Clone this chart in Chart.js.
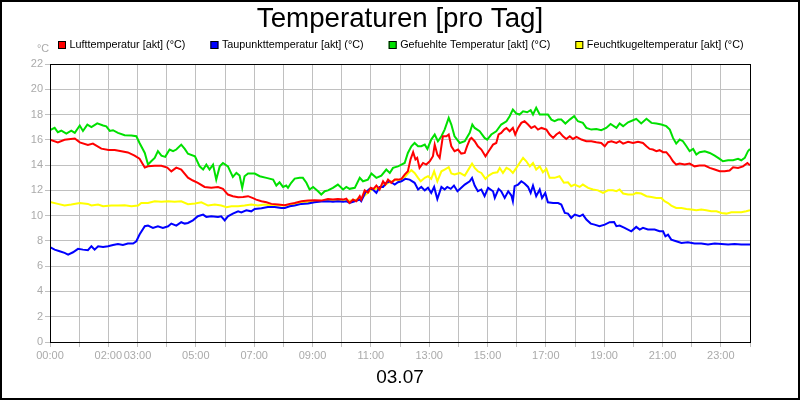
<!DOCTYPE html>
<html>
<head>
<meta charset="utf-8">
<script src="https://cdn.jsdelivr.net/npm/chart.js@4/dist/chart.umd.min.js"></script>
<style>
html,body{margin:0;padding:0;background:#fff;}
#wrap{width:800px;height:400px;position:relative;}
</style>
</head>
<body>
<div id="wrap"><canvas id="c" width="800" height="400"></canvas></div>
<script>
const chartTitle = "Temperaturen [pro Tag]";
const dateLabel = "03.07";
const unitLabel = "°C";
const seriesLabels = ["Lufttemperatur [akt] (°C)", "Taupunkttemperatur [akt] (°C)", "Gefuehlte Temperatur [akt] (°C)", "Feuchtkugeltemperatur [akt] (°C)"];
const seriesColors = ["#ff0000", "#0000ff", "#00e000", "#ffff00"];
const xTickHours = [0, 2, 3, 5, 7, 9, 11, 13, 15, 17, 19, 21, 23];
const xTickLabels = ["00:00", "02:00", "03:00", "05:00", "07:00", "09:00", "11:00", "13:00", "15:00", "17:00", "19:00", "21:00", "23:00"];

const redHours = [0,0.27,0.5,0.85,1.02,1.3,1.47,1.76,2.01,2.22,2.45,2.67,2.9,3.07,3.25,3.36,3.59,3.82,4.02,4.16,4.33,4.5,4.73,4.9,5.07,5.3,5.53,5.76,5.93,6.1,6.27,6.45,6.62,6.79,6.96,7.07,7.25,7.42,7.59,7.82,8.05,8.22,8.39,8.62,8.85,9.07,9.3,9.53,9.7,9.87,10.05,10.16,10.27,10.39,10.5,10.62,10.67,10.79,10.9,11,11.09,11.19,11.3,11.42,11.5,11.59,11.7,11.82,11.93,12.05,12.16,12.27,12.36,12.45,12.53,12.59,12.67,12.79,12.9,13.02,13.13,13.19,13.28,13.36,13.47,13.59,13.67,13.76,13.87,13.99,14.1,14.22,14.3,14.4,14.45,14.56,14.67,14.79,14.93,15.04,15.19,15.3,15.38,15.47,15.57,15.65,15.76,15.87,15.95,16.05,16.16,16.27,16.39,16.5,16.62,16.73,16.85,17.02,17.13,17.25,17.36,17.47,17.59,17.7,17.82,17.93,18.05,18.22,18.39,18.56,18.73,18.9,19.02,19.13,19.25,19.42,19.53,19.65,19.82,19.99,20.16,20.33,20.45,20.56,20.67,20.79,20.9,21.02,21.13,21.25,21.36,21.47,21.59,21.76,21.93,22.1,22.27,22.45,22.62,22.79,22.96,23.13,23.3,23.42,23.59,23.76,23.91,24];
const redValues = [16.0,15.8,16.0,16.1,15.8,15.6,15.7,15.3,15.2,15.2,15.1,15.0,14.75,14.5,13.8,13.9,13.95,13.95,13.8,13.5,13.8,13.65,13.0,12.78,12.6,12.27,12.2,12.27,12.12,11.67,11.54,11.46,11.48,11.54,11.38,11.27,11.14,11.06,10.93,10.88,10.82,10.93,11.0,11.14,11.19,11.22,11.19,11.32,11.27,11.32,11.27,11.35,11.0,11.27,11.14,11.54,11.27,12.0,11.83,12.2,12.12,12.38,12.07,12.72,12.46,12.85,12.6,12.85,12.85,12.91,13.25,13.51,14.44,15.02,14.44,14.57,13.78,14.17,14.04,14.3,14.7,15.62,14.83,14.57,16.28,16.28,16.42,15.49,15.1,15.23,14.91,14.96,15.5,16.05,16.15,15.89,15.49,15.23,14.7,15.1,15.62,15.75,16.42,16.55,16.81,16.94,16.68,16.94,16.42,16.94,17.34,17.47,17.21,16.94,17.08,16.81,16.94,16.81,16.42,16.15,16.42,16.6,16.28,16.07,16.28,16.07,16.23,16.02,15.89,15.89,15.81,15.75,15.49,15.81,15.89,15.75,15.89,15.7,15.84,15.75,15.84,15.75,15.49,15.28,15.23,15.1,15.18,15.02,15.02,14.7,14.3,14.04,14.12,14.04,14.12,13.9,13.96,13.96,13.78,13.65,13.51,13.51,13.57,13.83,13.78,13.9,14.17,13.99];

const blueHours = [0,0.16,0.33,0.5,0.62,0.79,0.96,1.13,1.3,1.42,1.53,1.65,1.82,1.99,2.16,2.33,2.5,2.67,2.85,2.96,3.07,3.25,3.36,3.53,3.7,3.87,4.05,4.16,4.33,4.5,4.62,4.73,4.9,5.07,5.25,5.36,5.53,5.76,5.87,5.99,6.1,6.27,6.45,6.56,6.73,6.9,7.02,7.25,7.47,7.7,7.93,8.05,8.22,8.39,8.62,8.85,9.07,9.3,9.53,9.7,9.87,10.05,10.16,10.27,10.45,10.62,10.67,10.81,10.96,11.07,11.19,11.3,11.42,11.53,11.65,11.82,11.93,12.05,12.18,12.33,12.5,12.62,12.73,12.85,12.96,13.07,13.17,13.28,13.42,13.53,13.62,13.74,13.85,13.97,14.1,14.22,14.39,14.47,14.56,14.67,14.79,14.9,15.02,15.19,15.25,15.38,15.47,15.59,15.71,15.82,15.87,15.93,16.05,16.16,16.27,16.39,16.48,16.56,16.67,16.79,16.87,16.98,17.07,17.25,17.42,17.53,17.65,17.76,17.87,17.99,18.16,18.27,18.39,18.54,18.67,18.84,19.02,19.19,19.34,19.42,19.53,19.7,19.93,20.1,20.22,20.33,20.5,20.73,20.9,21.02,21.1,21.19,21.3,21.47,21.65,21.87,22.1,22.33,22.56,22.79,23.02,23.25,23.47,23.7,23.87,24];
const blueValues = [7.5,7.31,7.18,7.05,6.92,7.1,7.37,7.31,7.26,7.58,7.31,7.58,7.52,7.58,7.68,7.76,7.68,7.79,7.79,7.97,8.5,9.16,9.21,9.03,9.16,9.03,9.16,9.37,9.21,9.48,9.37,9.42,9.63,9.95,10.08,9.9,9.95,9.9,9.95,9.63,9.95,10.16,10.34,10.26,10.42,10.34,10.53,10.58,10.69,10.69,10.61,10.61,10.74,10.8,10.93,10.96,11.06,11.11,11.14,11.09,11.14,11.09,11.14,11.0,11.14,11.27,11.14,11.83,12.12,12.07,11.8,12.27,12.27,12.6,12.72,12.46,12.64,12.72,12.91,12.85,12.6,12.07,12.27,12.0,12.2,11.8,12.27,11.32,12.27,12.07,12.27,12.12,12.38,11.93,12.2,12.46,12.72,12.99,12.38,11.93,12.07,11.54,12.2,11.93,11.4,12.12,11.93,11.4,11.93,11.59,11.14,12.33,12.46,12.72,12.54,12.27,11.8,12.38,11.54,12.07,11.4,11.8,11.06,11.0,11.0,10.88,10.21,10.16,9.82,10.08,9.95,10.08,9.69,9.37,9.29,9.16,9.29,9.48,9.5,9.16,9.21,9.03,8.76,9.11,8.9,9.03,8.9,8.9,8.76,8.76,8.36,8.5,8.1,7.97,7.84,7.89,7.79,7.79,7.71,7.79,7.76,7.71,7.76,7.71,7.71,7.71];

const greenHours = [0,0.16,0.27,0.39,0.56,0.73,0.85,1.02,1.13,1.28,1.42,1.62,1.82,1.93,2.05,2.16,2.33,2.56,2.79,2.96,3.07,3.25,3.36,3.47,3.59,3.7,3.82,3.95,4.1,4.22,4.33,4.5,4.62,4.73,4.97,5.13,5.25,5.36,5.47,5.59,5.7,5.82,5.93,6.1,6.27,6.39,6.5,6.59,6.67,6.79,7.02,7.19,7.42,7.65,7.76,7.87,7.99,8.1,8.16,8.27,8.39,8.56,8.67,8.79,8.9,9.02,9.19,9.3,9.42,9.53,9.7,9.87,10.05,10.16,10.27,10.45,10.62,10.73,10.9,11.02,11.19,11.36,11.53,11.65,11.76,11.93,12.05,12.16,12.27,12.39,12.5,12.62,12.73,12.85,12.94,13.07,13.19,13.3,13.42,13.53,13.67,13.76,13.87,14.05,14.22,14.39,14.48,14.56,14.73,14.9,14.99,15.13,15.3,15.47,15.65,15.76,15.87,15.99,16.1,16.22,16.36,16.48,16.56,16.67,16.79,16.94,17.07,17.19,17.3,17.42,17.53,17.67,17.82,17.97,18.1,18.27,18.39,18.56,18.73,18.9,19.07,19.22,19.42,19.53,19.65,19.82,19.99,20.1,20.27,20.45,20.62,20.79,20.96,21.13,21.25,21.36,21.47,21.59,21.7,21.82,21.93,22.05,22.16,22.27,22.45,22.62,22.79,22.96,23.07,23.25,23.42,23.59,23.7,23.82,23.93,24];
const greenValues = [16.76,16.95,16.6,16.73,16.5,16.73,16.55,17.13,16.7,17.2,17.0,17.3,17.13,17.07,16.7,16.76,16.55,16.36,16.34,16.28,15.75,14.96,14.04,14.3,14.57,15.1,14.75,14.65,15.23,15.1,15.23,15.62,15.28,14.9,14.7,13.9,13.65,14.04,13.65,14.04,12.85,13.9,14.17,13.9,13.07,13.38,13.17,12.2,13.12,13.33,13.33,13.12,12.99,12.85,12.38,12.64,12.27,12.38,12.2,12.6,12.93,12.99,12.99,12.6,12.07,12.27,11.93,11.67,11.93,12.0,12.2,12.46,12.07,12.27,12.12,12.2,12.99,12.72,12.85,13.33,12.99,13.17,13.65,13.38,13.78,13.9,14.04,14.17,14.96,15.49,15.75,15.49,15.49,15.62,15.28,16.02,16.42,15.89,16.28,16.81,17.74,17.21,16.28,15.75,15.89,16.55,17.21,16.94,16.68,16.15,16.02,16.42,16.68,17.21,17.47,17.87,18.4,18.08,18.0,18.26,18.18,18.34,18.0,18.53,18.0,18.0,18.0,17.6,17.47,17.6,17.6,17.29,17.6,17.87,17.47,17.34,16.94,16.81,16.86,16.76,16.94,17.25,16.94,17.29,17.08,17.39,17.55,17.66,17.29,17.66,17.34,17.29,17.21,17.08,16.81,16.15,15.7,16.02,15.89,15.49,15.1,15.28,14.83,15.02,15.1,14.96,14.75,14.49,14.3,14.38,14.38,14.49,14.38,14.57,15.1,15.28];

const yellowHours = [0,0.27,0.5,0.73,1.02,1.3,1.42,1.65,1.82,2.1,2.33,2.56,2.79,3.02,3.13,3.36,3.59,3.82,4.05,4.27,4.5,4.73,4.97,5.19,5.42,5.65,5.87,6.05,6.22,6.45,6.67,6.9,7.13,7.36,7.59,7.82,8.05,8.3,8.6,8.9,9.2,9.5,9.8,10.1,10.4,10.7,11.0,11.3,11.6,11.87,11.99,12.14,12.27,12.39,12.5,12.62,12.71,12.85,12.96,13.07,13.17,13.28,13.42,13.53,13.67,13.76,13.87,14.05,14.22,14.36,14.47,14.56,14.67,14.79,14.93,15.04,15.19,15.34,15.42,15.53,15.65,15.76,15.87,15.99,16.1,16.22,16.33,16.45,16.56,16.67,16.79,16.9,17.02,17.13,17.3,17.47,17.62,17.76,17.87,17.99,18.16,18.27,18.45,18.62,18.79,18.96,19.13,19.3,19.42,19.53,19.65,19.82,19.99,20.1,20.27,20.45,20.62,20.79,20.96,21.07,21.19,21.3,21.47,21.65,21.82,21.99,22.16,22.33,22.5,22.67,22.85,23.02,23.19,23.36,23.53,23.7,23.87,24];
const yellowValues = [11.09,10.93,10.8,10.88,11.0,10.93,10.8,10.88,10.74,10.8,10.8,10.82,10.74,10.8,11.0,11.0,11.14,11.09,11.14,11.09,11.14,10.9,10.96,11.06,10.8,10.88,10.8,10.67,10.74,10.74,10.8,10.88,10.8,10.88,10.8,10.8,10.8,10.9,11.0,11.1,11.15,11.2,11.2,11.2,11.2,11.4,12.0,12.2,12.6,12.85,12.8,12.99,13.33,13.6,13.38,12.99,12.72,12.99,13.12,12.91,13.51,12.72,13.51,13.65,13.83,13.33,13.25,13.38,13.17,13.7,14.12,13.78,13.51,13.38,12.91,13.17,13.38,13.43,13.78,13.38,13.78,13.65,13.38,13.78,14.17,14.57,14.3,13.9,14.17,13.65,13.9,13.43,13.7,12.99,12.99,13.12,12.6,12.64,12.33,12.46,12.27,12.46,12.2,12.07,12.0,11.8,12.0,12.0,11.93,12.07,11.75,11.67,11.67,11.8,11.75,11.54,11.48,11.4,11.4,11.14,11.0,10.8,10.61,10.61,10.53,10.48,10.42,10.48,10.42,10.34,10.34,10.21,10.16,10.26,10.26,10.26,10.34,10.42];

const FONT = '"Liberation Sans", Arial, sans-serif';
Chart.defaults.font.family = FONT;

function toPoints(hours, values) {
  return hours.map((h, i) => ({ x: h, y: values[i] }));
}

const seriesHours = [redHours, blueHours, greenHours, yellowHours];
const seriesValues = [redValues, blueValues, greenValues, yellowValues];

const datasets = seriesLabels.map((label, i) => ({
  label: label,
  data: toPoints(seriesHours[i], seriesValues[i]),
  borderColor: seriesColors[i],
  backgroundColor: seriesColors[i],
  borderWidth: 2,
  pointRadius: 0,
  tension: 0,
  fill: false
}));

const decoPlugin = {
  id: 'deco',
  afterDraw(chart) {
    const ctx = chart.ctx;
    const a = chart.chartArea;
    ctx.save();
    ctx.strokeStyle = '#000';
    ctx.lineWidth = 1;
    ctx.strokeRect(Math.round(a.left) + 0.5, Math.round(a.top) + 0.5, Math.round(a.right - a.left), Math.round(a.bottom - a.top));
    ctx.lineWidth = 2;
    ctx.strokeRect(1, 1, 798, 398);
    ctx.fillStyle = '#000';
    ctx.textAlign = 'center';
    ctx.textBaseline = 'alphabetic';
    ctx.font = '27.7px ' + FONT;
    ctx.fillText(chartTitle, 400, 27);
    ctx.font = '19px ' + FONT;
    ctx.fillText(dateLabel, 400, 383);
    ctx.fillStyle = '#aaaaaa';
    ctx.textAlign = 'left';
    ctx.font = '10.8px ' + FONT;
    ctx.fillText(unitLabel, 37, 52);
    let x = 58;
    const y = 41;
    ctx.textBaseline = 'middle';
    chart.data.datasets.forEach(ds => {
      ctx.fillStyle = ds.borderColor;
      ctx.fillRect(x, y, 8, 8);
      ctx.strokeStyle = '#000';
      ctx.lineWidth = 1;
      ctx.strokeRect(x + 0.5, y + 0.5, 7, 7);
      ctx.fillStyle = '#000';
      ctx.fillText(ds.label, x + 11.5, y + 4);
      x += 11.5 + ctx.measureText(ds.label).width + 25;
    });
    ctx.restore();
  }
};

new Chart(document.getElementById('c'), {
  type: 'line',
  data: { datasets: datasets },
  options: {
    responsive: false,
    animation: false,
    devicePixelRatio: 1,
    layout: { padding: { left: 10, right: 50, top: 64, bottom: 28 } },
    plugins: {
      legend: { display: false },
      title: { display: false },
      tooltip: { enabled: false }
    },
    scales: {
      x: {
        type: 'linear',
        min: 0,
        max: 24,
        afterFit(s) { s.height = 30; s.paddingLeft = 0; s.paddingRight = 0; },
        border: { display: false },
        grid: { color: '#c0c0c0', tickColor: '#c0c0c0', tickLength: 5, lineWidth: 1 },
        ticks: {
          stepSize: 1,
          autoSkip: false,
          maxRotation: 0,
          minRotation: 0,
          padding: 2,
          color: '#aaaaaa',
          font: { size: 11, family: FONT },
          callback(v) {
            const idx = xTickHours.indexOf(v);
            return idx >= 0 ? xTickLabels[idx] : '';
          }
        }
      },
      y: {
        min: 0,
        max: 22,
        afterFit(s) { s.width = 40; s.paddingTop = 0; s.paddingBottom = 0; },
        border: { display: false },
        grid: { color: '#c0c0c0', tickColor: '#c0c0c0', tickLength: 5, lineWidth: 1 },
        ticks: {
          stepSize: 2,
          padding: 2,
          color: '#aaaaaa',
          font: { size: 11, family: FONT }
        }
      }
    }
  },
  plugins: [decoPlugin]
});
</script>
</body>
</html>
